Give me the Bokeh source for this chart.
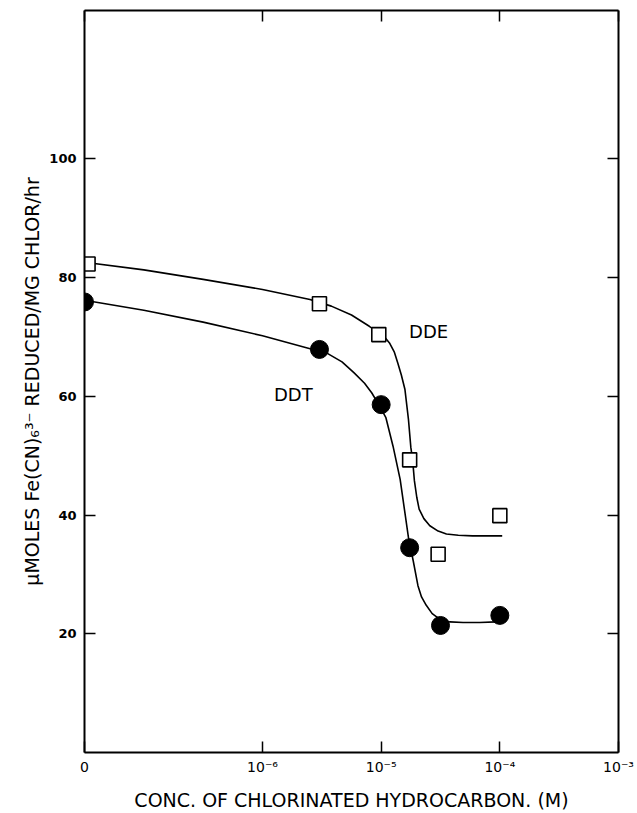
from bokeh.plotting import figure
from bokeh.models import LinearAxis, FixedTicker, Range1d
from bokeh.embed import file_html
from bokeh.resources import INLINE

# ---- data (x in log10 molar; "0" concentration drawn at the axis origin) ----
x_tick_values = [-7.5, -6, -5, -4, -3]
x_tick_labels = ["0", "10⁻⁶", "10⁻⁵", "10⁻⁴", "10⁻³"]
y_tick_values = [20, 40, 60, 80, 100]

dde_x = [-7.47, -5.52, -5.02, -4.76, -4.52, -4.0]
dde_y = [82.3, 75.6, 70.4, 49.3, 33.4, 39.9]
ddt_x = [-7.5, -5.52, -5.0, -4.76, -4.5, -4.0]
ddt_y = [75.9, 67.9, 58.6, 34.5, 21.4, 23.1]

dde_curve_x = [-7.5, -7.0, -6.5, -6.0, -5.6, -5.42, -5.25, -5.10, -4.98, -4.93, -4.89,
               -4.86, -4.83, -4.80, -4.77, -4.75, -4.735, -4.72, -4.70, -4.68, -4.64,
               -4.59, -4.52, -4.45, -4.35, -4.23, -3.98]
dde_curve_y = [82.6, 81.3, 79.7, 78.0, 76.3, 75.2, 73.7, 71.8, 70.2, 69.0, 67.5,
               65.6, 63.6, 61.2, 56.1, 51.4, 49.3, 45.8, 43.0, 41.0, 39.4,
               38.2, 37.3, 36.8, 36.6, 36.5, 36.5]

ddt_curve_x = [-7.5, -7.0, -6.5, -6.0, -5.63, -5.45, -5.33, -5.23, -5.14, -5.08, -5.02,
               -4.96, -4.90, -4.84, -4.80, -4.77, -4.73, -4.69, -4.66, -4.62, -4.57,
               -4.51, -4.42, -4.31, -4.17, -4.03]
ddt_curve_y = [76.2, 74.5, 72.5, 70.2, 68.2, 67.2, 65.8, 64.0, 62.2, 60.6, 58.6,
               56.4, 51.6, 46.0, 40.4, 36.2, 32.3, 28.1, 26.2, 24.8, 23.4,
               22.5, 22.0, 21.9, 21.9, 22.0]

series_labels = ["DDE", "DDT"]
label_x = [-4.6, -5.74]
label_y = [70.9, 60.3]

x_title = "CONC. OF CHLORINATED HYDROCARBON. (M)"
y_title = "μMOLES Fe(CN)₆³⁻ REDUCED/MG CHLOR/hr"

FONT = "DejaVu Sans"

p = figure(width=637, height=813, x_range=Range1d(-7.5, -3), y_range=Range1d(0, 125),
           output_backend="svg", toolbar_location=None,
           min_border_left=84, min_border_right=19, min_border_top=10, min_border_bottom=60)
p.grid.visible = False
p.outline_line_color = None
p.background_fill_color = "white"
p.border_fill_color = "white"

p.add_layout(LinearAxis(), "above")
p.add_layout(LinearAxis(), "right")

for ax in p.xaxis:
    ax.ticker = FixedTicker(ticks=x_tick_values)
for ax in p.yaxis:
    ax.ticker = FixedTicker(ticks=y_tick_values)

for ax in p.axis:
    ax.axis_line_width = 2
    ax.axis_line_color = "black"
    ax.major_tick_in = 11
    ax.major_tick_out = 0
    ax.major_tick_line_width = 1.5
    ax.major_tick_line_color = "black"
    ax.minor_tick_line_color = None
    ax.major_label_text_color = "black"

# top / right axes: ticks only, no labels
for ax in [p.above[0], p.right[0]]:
    ax.major_label_text_color = None
    ax.major_label_text_font_size = "1px"
    ax.major_label_standoff = 0

bx = p.below[0]
bx.major_label_overrides = dict(zip(x_tick_values, x_tick_labels))
bx.major_label_text_font = FONT
bx.major_label_text_font_size = "14px"
bx.major_label_standoff = 6
bx.axis_label = x_title
bx.axis_label_text_font = FONT
bx.axis_label_text_font_size = "19px"
bx.axis_label_text_font_style = "normal"
bx.axis_label_text_color = "black"
bx.axis_label_standoff = 11

ly = p.left[0]
ly.major_label_text_font = FONT
ly.major_label_text_font_size = "13px"
ly.major_label_text_font_style = "bold"
ly.major_label_standoff = 8
ly.axis_label = y_title
ly.axis_label_text_font = FONT
ly.axis_label_text_font_size = "19px"
ly.axis_label_text_font_style = "normal"
ly.axis_label_text_color = "black"
ly.axis_label_standoff = 3

p.line(dde_curve_x, dde_curve_y, line_color="black", line_width=1.6)
p.line(ddt_curve_x, ddt_curve_y, line_color="black", line_width=1.6)

p.scatter(dde_x, dde_y, marker="square", size=14, fill_color="white",
          line_color="black", line_width=1.6)
p.scatter(ddt_x, ddt_y, marker="circle", size=18, fill_color="black",
          line_color="black")

p.text(label_x, label_y, text=series_labels, text_align="center", text_baseline="middle",
       text_font={"value": FONT}, text_font_size="18px", text_color="black")

open("out.html", "w").write(file_html(p, INLINE))
